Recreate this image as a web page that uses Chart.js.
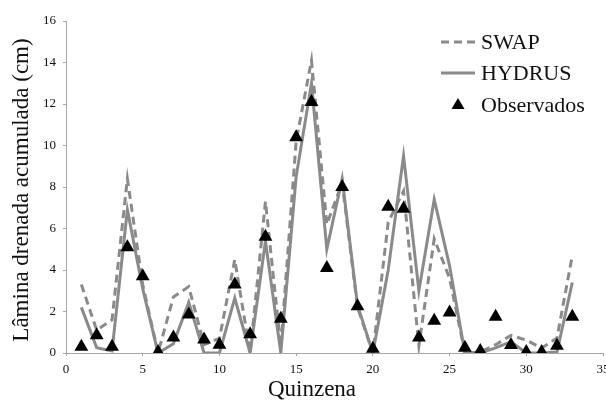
<!DOCTYPE html>
<html>
<head>
<meta charset="utf-8">
<script src="https://cdn.jsdelivr.net/npm/chart.js@4"></script>
<style>
  html, body { margin: 0; padding: 0; background: #fff; overflow: hidden; }
  #wrap { width: 606px; height: 400px; }
</style>
</head>
<body>
<div id="wrap"><canvas id="drainChart" width="606" height="400"></canvas></div>
<script>
// --- Data ---
const quinzenas = [1, 2, 3, 4, 5, 6, 7, 8, 9, 10, 11, 12, 13, 14, 15, 16, 17,
  18, 19, 20, 21, 22, 23, 24, 25, 26, 27, 28, 29, 30, 31, 32, 33];
const swap = [3.3, 1.1, 1.6, 8.4, 3.3, 0, 2.7, 3.2, 0.4, 0.7, 4.5, 0, 7.3, 0.3, 10.2,
  14.1, 6.2, 8.2, 2.2, 0, 6.3, 7.8, 0.35, 5.5, 3.6, 0, 0.05, 0.4, 0.85, 0.62, 0.24, 0.72, 4.7];
const hydrus = [2.2, 0.25, 0.1, 6.9, 3.1, 0, 0.45, 2.45, 0, 0, 2.65, 0, 5.4, 0, 8.5,
  13.0, 5.0, 8.4, 2.3, 0, 4.0, 9.5, 3.0, 7.4, 4.2, 0, 0, 0.25, 0.55, 0, 0, 0.05, 3.4];
const observados = [0.3, 0.85, 0.3, 5.1, 3.7, 0.05, 0.75, 1.85, 0.65, 0.4, 3.3, 0.9, 5.6, 1.65, 10.4,
  12.1, 4.1, 8.0, 2.25, 0.2, 7.05, 6.95, 0.75, 1.55, 1.95, 0.25, 0.1, 1.75, 0.38, 0.05, 0.05, 0.35, 1.75];
const xTicks = [0, 5, 10, 15, 20, 25, 30, 35];
const yTicks = [0, 2, 4, 6, 8, 10, 12, 14, 16];

const LINE_GRAY = "#8a8a8a";
const AXIS_GRAY = "#a6a6a6";
const SERIF = "'Liberation Serif', 'Times New Roman', serif";

const toPoints = (ys) => quinzenas.map((q, i) => ({ x: q, y: ys[i] }));

// --- Axis titles + legend drawn at fixed spots like the original ---
const decorPlugin = {
  id: "decor",
  afterDraw(chart) {
    const ctx = chart.ctx;
    ctx.save();
    ctx.fillStyle = "#111";
    ctx.textBaseline = "middle";

    // y title
    ctx.font = "23px " + SERIF;
    ctx.textAlign = "center";
    ctx.save();
    ctx.translate(22, 190);
    ctx.rotate(-Math.PI / 2);
    ctx.fillText("Lâmina drenada acumulada (cm)", 0, 0);
    ctx.restore();

    // x title
    ctx.fillText("Quinzena", 312, 390);

    // legend
    ctx.font = "22px " + SERIF;
    ctx.textAlign = "left";
    const rows = [
      { label: "SWAP", y: 42, dash: [8, 5] },
      { label: "HYDRUS", y: 73, dash: [] },
      { label: "Observados", y: 105, marker: true },
    ];
    rows.forEach((r) => {
      if (r.marker) {
        ctx.beginPath();
        ctx.moveTo(458, r.y - 7);
        ctx.lineTo(464.5, r.y + 4);
        ctx.lineTo(451.5, r.y + 4);
        ctx.closePath();
        ctx.fillStyle = "#000";
        ctx.fill();
      } else {
        ctx.beginPath();
        ctx.setLineDash(r.dash);
        ctx.strokeStyle = LINE_GRAY;
        ctx.lineWidth = 3;
        ctx.moveTo(441, r.y);
        ctx.lineTo(475, r.y);
        ctx.stroke();
        ctx.setLineDash([]);
      }
      ctx.fillStyle = "#111";
      ctx.fillText(r.label, 481, r.y + 1);
    });
    ctx.restore();
  },
};

const chart = new Chart(document.getElementById("drainChart"), {
  type: "line",
  data: {
    datasets: [
      {
        label: "Observados",
        data: toPoints(observados),
        showLine: false,
        pointStyle: "triangle",
        pointRadius: 8,
        pointBackgroundColor: "#000",
        pointBorderColor: "#000",
        pointBorderWidth: 0,
        order: 0,
      },
      {
        label: "HYDRUS",
        data: toPoints(hydrus),
        borderColor: LINE_GRAY,
        borderWidth: 3,
        pointRadius: 0,
        tension: 0,
        order: 1,
      },
      {
        label: "SWAP",
        data: toPoints(swap),
        borderColor: LINE_GRAY,
        borderWidth: 3,
        borderDash: [8, 5],
        pointRadius: 0,
        tension: 0,
        order: 2,
      },
    ],
  },
  options: {
    responsive: false,
    animation: false,
    devicePixelRatio: 1,
    layout: { autoPadding: false, padding: { top: 21, right: 3, left: 0, bottom: 0 } },
    plugins: { legend: { display: false }, tooltip: { enabled: false } },
    scales: {
      x: {
        type: "linear",
        min: 0,
        max: 35,
        afterFit: (s) => {
          s.height = 47;
          // let the "35" label run off the edge like the original
          s.paddingLeft = 0;
          s.paddingRight = 0;
        },
        afterBuildTicks: (s) => { s.ticks = xTicks.map((v) => ({ value: v })); },
        border: { color: AXIS_GRAY, width: 1 },
        grid: { drawOnChartArea: false, color: AXIS_GRAY, tickLength: 3 },
        ticks: { color: "#111", font: { family: SERIF, size: 13 }, padding: 6, maxRotation: 0 },
      },
      y: {
        min: 0,
        max: 16,
        afterFit: (s) => {
          s.width = 66;
          s.paddingTop = 0;
          s.paddingBottom = 0;
        },
        afterBuildTicks: (s) => { s.ticks = yTicks.map((v) => ({ value: v })); },
        border: { color: AXIS_GRAY, width: 1 },
        grid: { drawOnChartArea: false, color: AXIS_GRAY, tickLength: 3 },
        ticks: { color: "#111", font: { family: SERIF, size: 13 }, padding: 7 },
      },
    },
  },
  plugins: [decorPlugin],
});
</script>
</body>
</html>
